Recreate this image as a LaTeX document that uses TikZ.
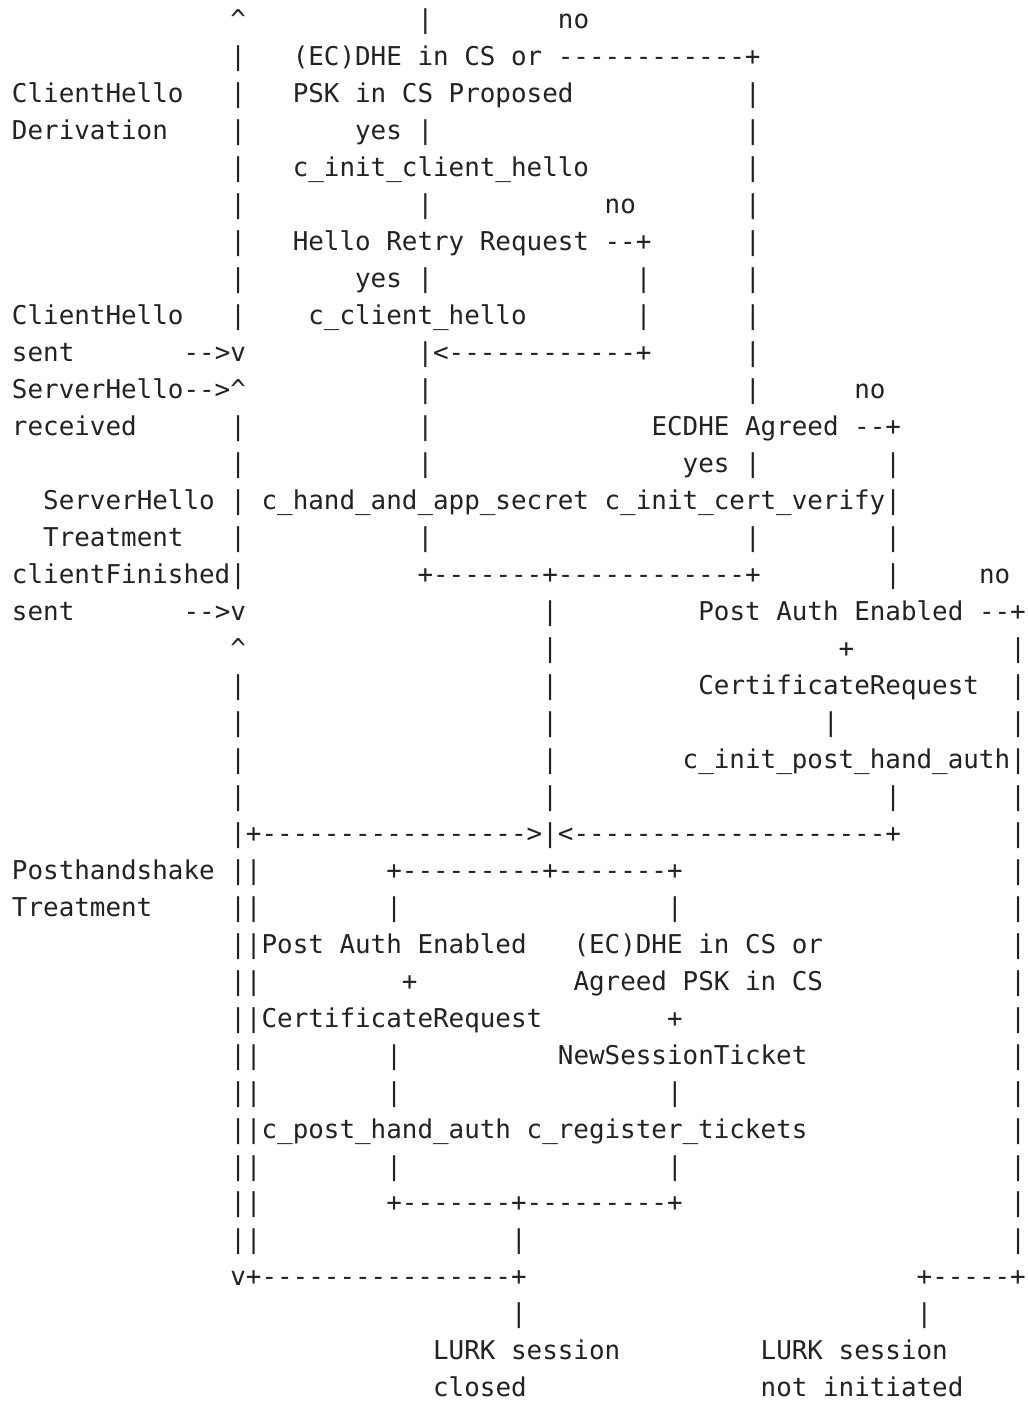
\documentclass[tikz,border=0pt]{standalone}
\usepackage{fontspec}
\setmonofont{DejaVu Sans Mono}
\definecolor{ink}{HTML}{222222}

\begin{document}
\begin{tikzpicture}[x=11.7pt, y=-27.73pt,
    ascii/.style={anchor=base west, inner sep=0pt, outer sep=0pt, text=ink,
        font=\ttfamily\fontsize{19.43pt}{27.73pt}\selectfont}]

        % Page
        \path[use as bounding box, fill=white] (-0.769,0.2156) rectangle (65.128,38.14);

        % Left rail
        \foreach \r in {2,3,4,5,6,7,8,9,12,13,14,15,16,19,20,21,22,23,24,25,26,27,28,29,30,31,32,33,34}
            \node[ascii] (rail\r) at (14,\r) {|};
        \foreach \r in {24,...,34}
            \node[ascii] (inner\r) at (15,\r) {|};
        \node[ascii] (up1) at (14,1) {\textasciicircum};
        \node[ascii] (down10) at (14,10) {v};
        \node[ascii] (up11) at (14,11) {\textasciicircum};
        \node[ascii] (down17) at (14,17) {v};
        \node[ascii] (up18) at (14,18) {\textasciicircum};
        \node[ascii] (down35) at (14,35) {v};

        % Phase labels
        \node[ascii] (chDeriv) at (0,3) {ClientHello};
        \node[ascii] (chDeriv2) at (0,4) {Derivation};
        \node[ascii] (chSent) at (0,9) {ClientHello};
        \node[ascii] (chSent2) at (0,10) {sent};
        \node[ascii] (chSentArr) at (11,10) {-->};
        \node[ascii] (shRecv) at (0,11) {ServerHello-->};
        \node[ascii] (shRecv2) at (0,12) {received};
        \node[ascii] (shTreat) at (2,14) {ServerHello};
        \node[ascii] (shTreat2) at (2,15) {Treatment};
        \node[ascii] (cfSent) at (0,16) {clientFinished};
        \node[ascii] (cfSent2) at (0,17) {sent};
        \node[ascii] (cfSentArr) at (11,17) {-->};
        \node[ascii] (phTreat) at (0,24) {Posthandshake};
        \node[ascii] (phTreat2) at (0,25) {Treatment};

        % Vertical runs
        \foreach \r in {1,4,6,8,10,11,12,13,15}
            \node[ascii] (main\r) at (26,\r) {|};
        \foreach \r in {3,4,5,6,7,8,9,10,11,13,15}
            \node[ascii] (noDhe\r) at (47,\r) {|};
        \foreach \r in {8,9}
            \node[ascii] (noHrr\r) at (40,\r) {|};
        \foreach \r in {13,14,15,16,22}
            \node[ascii] (noEcdhe\r) at (56,\r) {|};
        \foreach \r in {17,...,23}
            \node[ascii] (join\r) at (34,\r) {|};
        \foreach \r in {18,...,34}
            \node[ascii] (noPost\r) at (64,\r) {|};
        \foreach \r in {25,29,30,32}
            \node[ascii] (left\r) at (24,\r) {|};
        \foreach \r in {25,30,32}
            \node[ascii] (right\r) at (42,\r) {|};

        % ClientHello derivation
        \node[ascii] (no1) at (35,1) {no};
        \node[ascii] (dhe) at (18,2) {(EC)DHE in CS or ------------+};
        \node[ascii] (psk) at (18,3) {PSK in CS Proposed};
        \node[ascii] (yes4) at (22,4) {yes};
        \node[ascii] (initCh) at (18,5) {c\_init\_client\_hello};
        \node[ascii] (no6) at (38,6) {no};
        \node[ascii] (hrr) at (18,7) {Hello Retry Request --+};
        \node[ascii] (yes8) at (22,8) {yes};
        \node[ascii] (ch) at (19,9) {c\_client\_hello};
        \node[ascii] (back10) at (27,10) {<------------+};

        % ServerHello treatment
        \node[ascii] (no11) at (54,11) {no};
        \node[ascii] (ecdhe) at (41,12) {ECDHE Agreed --+};
        \node[ascii] (yes13) at (43,13) {yes};
        \node[ascii] (secret) at (16,14) {c\_hand\_and\_app\_secret c\_init\_cert\_verify};
        \node[ascii] (merge16) at (26,16) {+-------+------------+};
        \node[ascii] (no16) at (62,16) {no};
        \node[ascii] (postAuth) at (44,17) {Post Auth Enabled --+};
        \node[ascii] (plus18) at (53,18) {+};
        \node[ascii] (certReq) at (44,19) {CertificateRequest};
        \node[ascii] (bar20) at (52,20) {|};
        \node[ascii] (initPost) at (43,21) {c\_init\_post\_hand\_auth};
        \node[ascii] (toJoin) at (15,23) {+----------------->};
        \node[ascii] (fromPost) at (35,23) {<--------------------+};

        % Posthandshake treatment
        \node[ascii] (split24) at (24,24) {+---------+-------+};
        \node[ascii] (postAuth2) at (16,26) {Post Auth Enabled};
        \node[ascii] (dhe2) at (36,26) {(EC)DHE in CS or};
        \node[ascii] (plus27) at (25,27) {+};
        \node[ascii] (psk2) at (36,27) {Agreed PSK in CS};
        \node[ascii] (certReq2) at (16,28) {CertificateRequest};
        \node[ascii] (plus28) at (42,28) {+};
        \node[ascii] (nst) at (35,29) {NewSessionTicket};
        \node[ascii] (postHand) at (16,31) {c\_post\_hand\_auth c\_register\_tickets};
        \node[ascii] (merge33) at (24,33) {+-------+---------+};
        \node[ascii] (bar34) at (32,34) {|};

        % LURK session end
        \node[ascii] (close35) at (15,35) {+----------------+};
        \node[ascii] (abort35) at (58,35) {+-----+};
        \node[ascii] (bar36a) at (32,36) {|};
        \node[ascii] (bar36b) at (58,36) {|};
        \node[ascii] (closed) at (27,37) {LURK session};
        \node[ascii] (closed2) at (27,38) {closed};
        \node[ascii] (notInit) at (48,37) {LURK session};
        \node[ascii] (notInit2) at (48,38) {not initiated};

    \end{tikzpicture}
\end{document}
